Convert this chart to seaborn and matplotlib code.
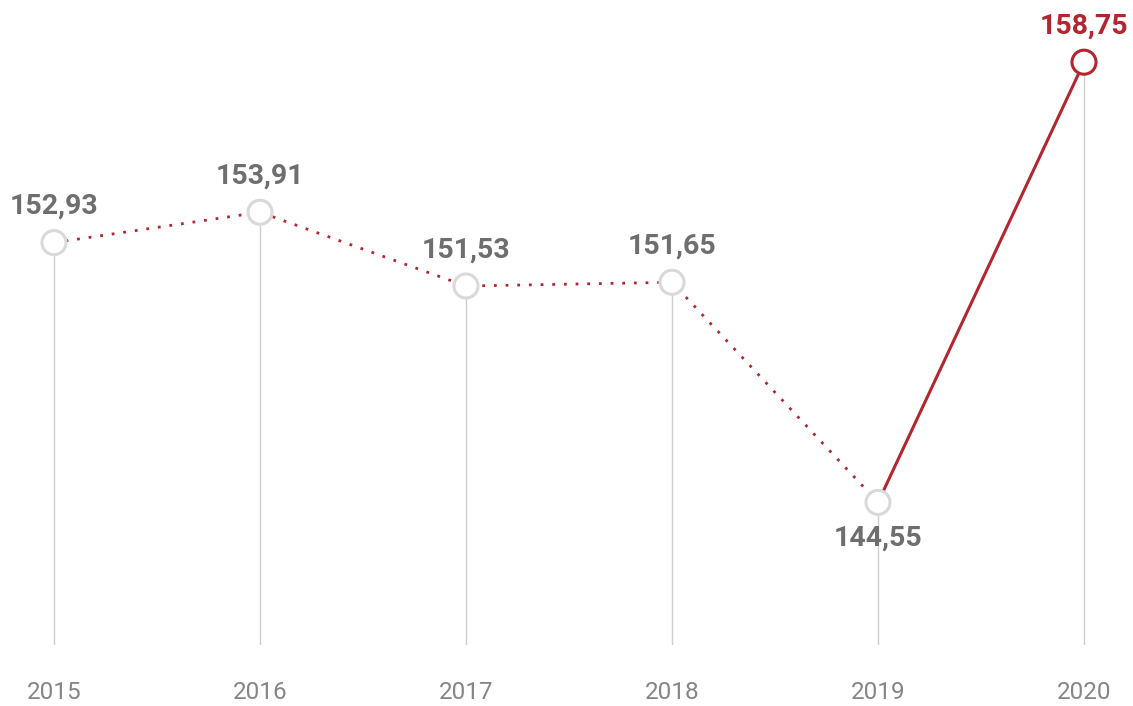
import pandas as pd
import matplotlib.pyplot as plt
import seaborn as sns

# Data
years = ["2015", "2016", "2017", "2018", "2019", "2020"]
values = [152.93, 153.91, 151.53, 151.65, 144.55, 158.75]
labels = ["152,93", "153,91", "151,53", "151,65", "144,55", "158,75"]

RED = "#b3262d"
GREY_TXT = "#6e6e6e"
GREY_MARK = "#d9d9d9"
GREY_LINE = "#cfcfcf"

df = pd.DataFrame({"x": range(len(years)), "year": years, "value": values})

sns.set_theme(style="white")
plt.rcParams['font.family'] = ['Roboto', 'DejaVu Sans']

fig = plt.figure(figsize=(11.33, 7.06), dpi=100)
ax = fig.add_axes([0, 61 / 706, 1, 645 / 706])

# drop lines from each point to the bottom
ax.vlines(df["x"], 139.95, df["value"], color=GREY_LINE, lw=1, zorder=1)

# dotted part (2015-2019) and solid part (2019-2020)
sns.lineplot(data=df.iloc[:5], x="x", y="value", ax=ax, color=RED,
             lw=2, linestyle=(0, (1, 3.2)), zorder=2)
sns.lineplot(data=df.iloc[4:], x="x", y="value", ax=ax, color=RED,
             lw=2.2, zorder=2)

# open circle markers
edge = [GREY_MARK] * 5 + [RED]
ax.scatter(df["x"], df["value"], s=300, facecolor="white",
           edgecolor=edge, linewidth=2.2, zorder=3)

# value labels
for i, (v, lab) in enumerate(zip(values, labels)):
    col = RED if i == len(values) - 1 else GREY_TXT
    off = -36 if i == 4 else 36
    ax.annotate(lab, xy=(i, v), xytext=(0, off * 0.72), textcoords="offset points",
                ha="center", va="center", fontsize=20.5, fontweight="bold", color=col)

ax.set_xlim(-54 / 206, 5 + 49 / 206)
ax.set_ylim(139.95, 139.95 + 645 / 31)
ax.set_xticks(df["x"])
ax.set_xticklabels(years, fontsize=17.5, color="#858585", fontweight="normal")
ax.tick_params(axis="x", length=0, pad=26)
ax.set_yticks([])
ax.set_xlabel("")
ax.set_ylabel("")
for s in ax.spines.values():
    s.set_visible(False)

fig.savefig("out.png", dpi=100)
